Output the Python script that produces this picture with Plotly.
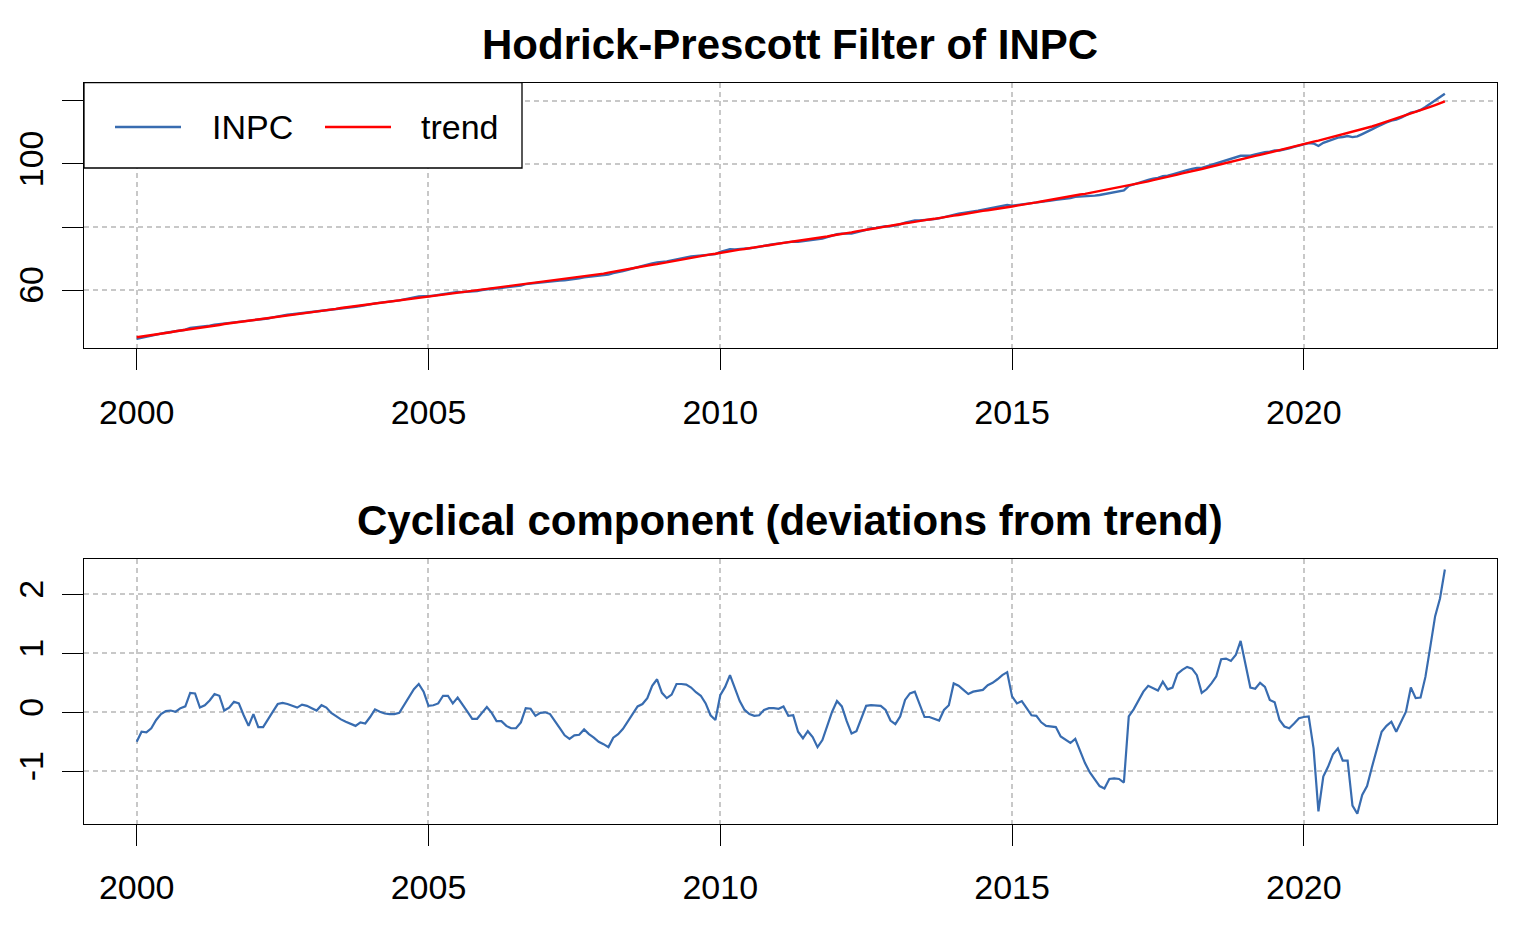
import plotly.graph_objects as go

# monthly dates, Jan 2000 .. Jun 2022, as decimal years
years = [2000 + m / 12 for m in range(270)]

# HP trend of INPC (one row per year)
trend = [
    45.0, 45.2, 45.5, 45.7, 45.9, 46.2, 46.4, 46.6, 46.9, 47.1, 47.3, 47.6,
    47.8, 48.0, 48.3, 48.5, 48.7, 48.9, 49.2, 49.4, 49.6, 49.8, 50.1, 50.3,
    50.5, 50.7, 50.9, 51.1, 51.3, 51.5, 51.8, 52.0, 52.2, 52.4, 52.6, 52.8,
    53.0, 53.2, 53.4, 53.6, 53.8, 54.0, 54.3, 54.5, 54.7, 54.9, 55.1, 55.3,
    55.5, 55.7, 55.9, 56.1, 56.3, 56.5, 56.7, 56.9, 57.1, 57.3, 57.5, 57.7,
    57.9, 58.1, 58.3, 58.5, 58.7, 58.9, 59.1, 59.2, 59.4, 59.6, 59.8, 60.0,
    60.2, 60.4, 60.6, 60.8, 61.0, 61.2, 61.4, 61.6, 61.8, 62.0, 62.2, 62.4,
    62.6, 62.8, 63.0, 63.3, 63.5, 63.7, 63.9, 64.1, 64.3, 64.6, 64.8, 65.0,
    65.2, 65.5, 65.8, 66.0, 66.3, 66.6, 66.9, 67.1, 67.4, 67.7, 68.0, 68.2,
    68.5, 68.8, 69.1, 69.3, 69.6, 69.9, 70.2, 70.4, 70.7, 71.0, 71.3, 71.5,
    71.8, 72.0, 72.3, 72.5, 72.8, 73.0, 73.3, 73.5, 73.7, 74.0, 74.2, 74.5,
    74.7, 74.9, 75.2, 75.4, 75.6, 75.9, 76.1, 76.3, 76.6, 76.8, 77.0, 77.3,
    77.5, 77.8, 78.0, 78.3, 78.6, 78.8, 79.1, 79.4, 79.6, 79.9, 80.2, 80.4,
    80.7, 80.9, 81.2, 81.4, 81.7, 81.9, 82.2, 82.4, 82.6, 82.9, 83.1, 83.4,
    83.6, 83.8, 84.1, 84.3, 84.6, 84.8, 85.1, 85.3, 85.5, 85.8, 86.0, 86.3,
    86.5, 86.8, 87.0, 87.3, 87.6, 87.8, 88.1, 88.4, 88.6, 88.9, 89.2, 89.4,
    89.7, 90.0, 90.3, 90.5, 90.8, 91.1, 91.4, 91.7, 92.0, 92.2, 92.5, 92.8,
    93.1, 93.5, 93.8, 94.2, 94.5, 94.9, 95.2, 95.6, 95.9, 96.3, 96.6, 97.0,
    97.3, 97.7, 98.1, 98.4, 98.8, 99.2, 99.6, 99.9, 100.3, 100.7, 101.1, 101.4,
    101.8, 102.2, 102.6, 102.9, 103.3, 103.7, 104.1, 104.4, 104.8, 105.2, 105.6, 105.9,
    106.3, 106.7, 107.1, 107.4, 107.8, 108.2, 108.6, 109.0, 109.4, 109.7, 110.1, 110.5,
    110.9, 111.4, 111.9, 112.4, 112.9, 113.4, 113.9, 114.4, 114.9, 115.4, 115.9, 116.4,
    116.9, 117.5, 118.1, 118.7, 119.3, 119.9,
]

# cyclical component (INPC - trend)
cycle = [
    -0.50, -0.33, -0.34, -0.27, -0.13, -0.03, 0.02, 0.03, 0.01, 0.07, 0.10, 0.33,
    0.32, 0.08, 0.12, 0.20, 0.31, 0.28, 0.03, 0.08, 0.18, 0.15, -0.05, -0.23,
    -0.03, -0.25, -0.25, -0.13, 0.01, 0.14, 0.16, 0.14, 0.11, 0.08, 0.13, 0.11,
    0.07, 0.03, 0.12, 0.08, -0.01, -0.07, -0.12, -0.16, -0.19, -0.23, -0.17, -0.19,
    -0.08, 0.05, 0.01, -0.02, -0.03, -0.03, -0.01, 0.12, 0.25, 0.39, 0.48, 0.35,
    0.11, 0.12, 0.15, 0.28, 0.28, 0.15, 0.25, 0.12, 0.01, -0.11, -0.11, -0.01,
    0.09, -0.01, -0.15, -0.15, -0.23, -0.27, -0.27, -0.17, 0.07, 0.06, -0.06, -0.01,
    0.00, -0.03, -0.14, -0.27, -0.39, -0.45, -0.39, -0.38, -0.29, -0.37, -0.43, -0.50,
    -0.54, -0.59, -0.43, -0.37, -0.28, -0.16, -0.03, 0.10, 0.14, 0.24, 0.45, 0.56,
    0.33, 0.24, 0.30, 0.48, 0.48, 0.47, 0.42, 0.34, 0.28, 0.15, -0.05, -0.13,
    0.29, 0.43, 0.63, 0.41, 0.19, 0.04, -0.03, -0.06, -0.05, 0.04, 0.07, 0.07,
    0.06, 0.10, -0.06, -0.05, -0.33, -0.44, -0.32, -0.42, -0.59, -0.47, -0.24, 0.01,
    0.19, 0.10, -0.15, -0.36, -0.32, -0.10, 0.11, 0.12, 0.11, 0.11, 0.04, -0.14,
    -0.20, -0.07, 0.21, 0.32, 0.35, 0.15, -0.08, -0.08, -0.11, -0.14, 0.04, 0.12,
    0.49, 0.45, 0.38, 0.31, 0.35, 0.37, 0.38, 0.46, 0.50, 0.56, 0.63, 0.68,
    0.27, 0.15, 0.19, 0.07, -0.05, -0.06, -0.17, -0.23, -0.24, -0.25, -0.41, -0.47,
    -0.52, -0.45, -0.67, -0.86, -1.02, -1.14, -1.25, -1.29, -1.13, -1.12, -1.13, -1.19,
    -0.07, 0.05, 0.19, 0.35, 0.45, 0.41, 0.37, 0.52, 0.39, 0.42, 0.65, 0.72,
    0.77, 0.74, 0.63, 0.33, 0.39, 0.49, 0.61, 0.90, 0.91, 0.87, 0.97, 1.21,
    0.83, 0.42, 0.40, 0.50, 0.43, 0.21, 0.17, -0.13, -0.24, -0.27, -0.19, -0.10,
    -0.08, -0.07, -0.61, -1.68, -1.09, -0.92, -0.71, -0.61, -0.82, -0.82, -1.58, -1.72,
    -1.40, -1.25, -0.93, -0.64, -0.33, -0.23, -0.16, -0.33, -0.16, 0.01, 0.42, 0.24,
    0.25, 0.60, 1.11, 1.63, 1.93, 2.42,
]

# the index itself = trend + cyclical component
inpc = [t + c for t, c in zip(trend, cycle)]

year_ticks = [2000, 2005, 2010, 2015, 2020]
top_ticks = [60, 80, 100, 120]
top_labels = ["60", "", "100", ""]   # R drops the labels that would overlap
cyc_ticks = [-1, 0, 1, 2]
cyc_labels = ["-1", "0", "1", "2"]

BLUE = "#386cb0"
FONT = "Liberation Sans, Arial, Helvetica, sans-serif"
W, H = 1540, 951


def px(x):
    return x / W


def py(y):
    return 1 - y / H


fig = go.Figure()
fig.add_trace(go.Scatter(x=years, y=inpc, mode="lines", name="INPC",
                         line=dict(color=BLUE, width=2.4), xaxis="x", yaxis="y"))
fig.add_trace(go.Scatter(x=years, y=trend, mode="lines", name="trend",
                         line=dict(color="red", width=2.4), xaxis="x", yaxis="y"))
fig.add_trace(go.Scatter(x=years, y=cycle, mode="lines", name="cycle",
                         line=dict(color=BLUE, width=2.2), xaxis="x2", yaxis="y2"))

xdom = [px(84), px(1497)]
axis_common = dict(showline=True, mirror=True, linecolor="black", linewidth=1.3,
                   ticks="outside", ticklen=21, tickwidth=1.3, tickcolor="black",
                   showgrid=True, gridcolor="#c8c8c8", gridwidth=1.7, griddash="5px,4px",
                   zeroline=False, tickfont=dict(family=FONT, size=34, color="black"))

fig.update_layout(
    width=W, height=H,
    margin=dict(l=0, r=0, t=0, b=0),
    paper_bgcolor="white", plot_bgcolor="white",
    showlegend=False,
    xaxis=dict(domain=xdom, anchor="y", range=[1999.097, 2023.31],
               tickvals=year_ticks, ticklabelstandoff=13, **axis_common),
    yaxis=dict(domain=[py(348.3), py(82.7)], anchor="x", range=[41.5, 125.8],
               tickvals=top_ticks, ticktext=top_labels, tickangle=-90,
               ticklabelstandoff=5, **axis_common),
    xaxis2=dict(domain=xdom, anchor="y2", range=[1999.097, 2023.31],
                tickvals=year_ticks, ticklabelstandoff=12, **axis_common),
    yaxis2=dict(domain=[py(824), py(559.3)], anchor="x2", range=[-1.893, 2.593],
                tickvals=cyc_ticks, ticktext=cyc_labels, tickangle=-90,
                ticklabelstandoff=5, **axis_common),
)

# titles
fig.add_annotation(text="Hodrick-Prescott Filter of INPC", xref="paper", yref="paper",
                   x=px(790.5), y=py(44), showarrow=False, xanchor="center", yanchor="middle",
                   font=dict(family=FONT, size=42, color="black", weight="bold"))
fig.add_annotation(text="Cyclical component (deviations from trend)", xref="paper", yref="paper",
                   x=px(790.5), y=py(520), showarrow=False, xanchor="center", yanchor="middle",
                   font=dict(family=FONT, size=42, color="black", weight="bold"))

# legend box in the top-left corner, R style
fig.add_shape(type="rect", xref="paper", yref="paper", x0=px(84), x1=px(522), y0=py(168), y1=py(82.7),
              line=dict(color="black", width=1.3), fillcolor="white", layer="above")
fig.add_shape(type="line", xref="paper", yref="paper", x0=px(115), x1=px(181), y0=py(127), y1=py(127),
              line=dict(color=BLUE, width=2.4), layer="above")
fig.add_shape(type="line", xref="paper", yref="paper", x0=px(325), x1=px(391), y0=py(127), y1=py(127),
              line=dict(color="red", width=2.4), layer="above")
fig.add_annotation(text="INPC", xref="paper", yref="paper", x=px(210), y=py(127), showarrow=False,
                   xanchor="left", yanchor="middle", font=dict(family=FONT, size=34, color="black"))
fig.add_annotation(text="trend", xref="paper", yref="paper", x=px(419), y=py(127), showarrow=False,
                   xanchor="left", yanchor="middle", font=dict(family=FONT, size=34, color="black"))

# drop the default page margin so the figure sits at the window corner
fig.write_html("out.html", config={"displayModeBar": False},
               post_script="document.body.style.margin='0';")
